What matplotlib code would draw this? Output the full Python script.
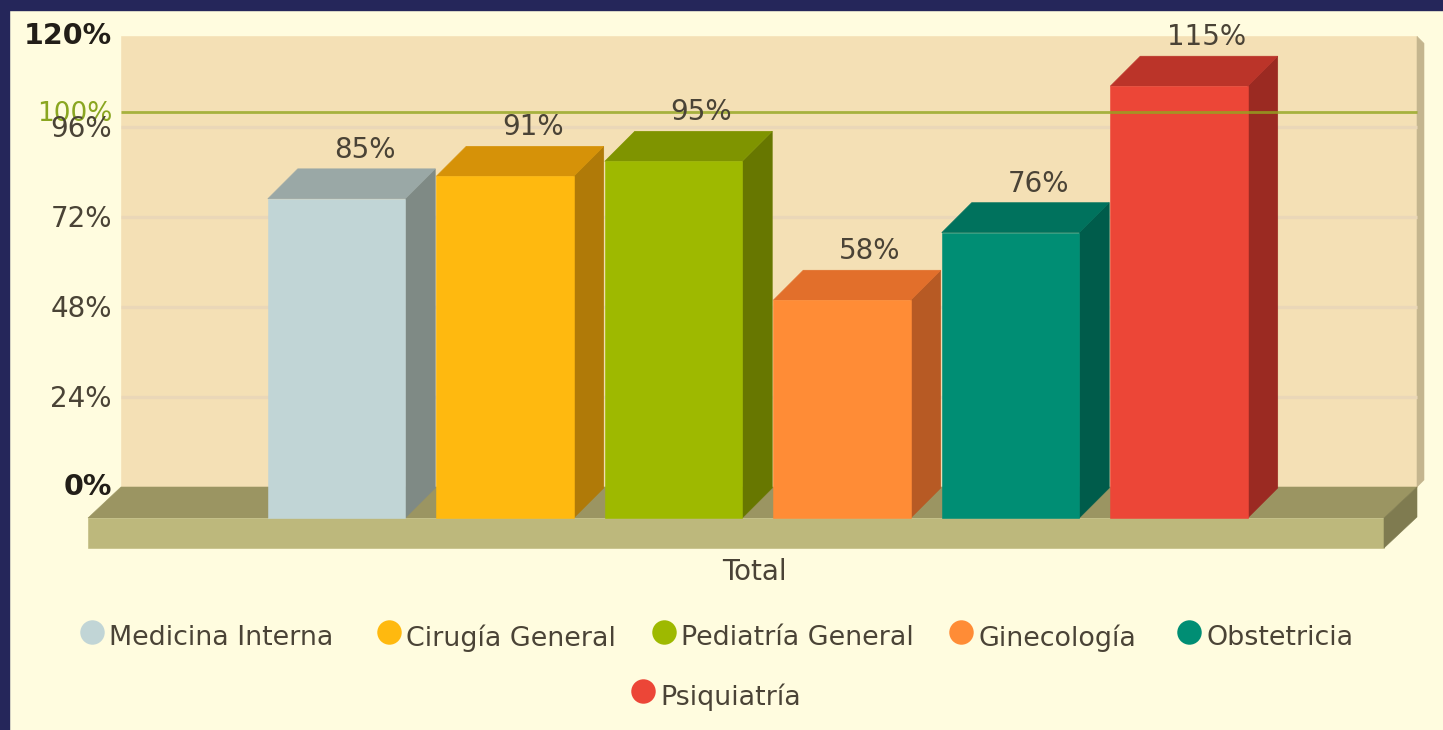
import matplotlib
matplotlib.use("Agg")
import matplotlib.pyplot as plt
from matplotlib.patches import Polygon, Rectangle

categories = ["Medicina Interna", "Cirugía General", "Pediatría General",
              "Ginecología", "Obstetricia", "Psiquiatría"]
values = [85, 91, 95, 58, 76, 115]
value_labels = ["85%", "91%", "95%", "58%", "76%", "115%"]
front_colors = ["#c1d5d6", "#ffb90f", "#9eb900", "#ff8c36", "#008e74", "#ec4637"]
top_colors = ["#9aa8a6", "#d69208", "#7f9400", "#e26f2b", "#00725d", "#bb3429"]
side_colors = ["#7f8a85", "#b07a08", "#677700", "#b75a24", "#005c4b", "#9b2a22"]
y_ticks = [0, 24, 48, 72, 96, 120]
y_tick_labels = ["0%", "24%", "48%", "72%", "96%", "120%"]
target = 100
target_label = "100%"
x_title = "Total"

W, H = 1443, 730
BG = "#fffcdf"
NAVY = "#25265a"
TEXT = "#4a4336"
DARK = "#221e18"
FS = 20

fig = plt.figure(figsize=(W / 100, H / 100), dpi=100, facecolor=BG)
ax = fig.add_axes([0, 0, 1, 1])

# scales: one axis unit in x is one bar slot, one axis unit in y is one percent
SLOT, X0 = 168.5, 336.5
PPU, Y0 = 3.755, 487.0
ax.set_xlim((0 - X0) / SLOT, (W - X0) / SLOT)
ax.set_ylim((Y0 - H) / PPU, (Y0 - 0) / PPU)
ax.axis("off")


def dx(px):
    return px / SLOT


def dy(px):
    return px / PPU


def xp(px):
    return (px - X0) / SLOT


def yp(py):
    return (Y0 - py) / PPU


DEPTH_X, DEPTH_Y = dx(30), dy(30)
BAR_W = dx(137.5)
BASE = -dy(31)


def poly(points, color, z):
    ax.add_patch(Polygon(points, closed=True, facecolor=color, edgecolor=color,
                         linewidth=0.4, zorder=z))


# page frame
ax.add_patch(Rectangle((0, 0), 9 / W, 1, transform=ax.transAxes, color=NAVY, zorder=20))
ax.add_patch(Rectangle((0, 1 - 10 / H), 1, 10 / H, transform=ax.transAxes, color=NAVY, zorder=20))

# back wall
wl, wr = xp(121), xp(1417)
wt = y_ticks[-1]
poly([(wl, 0), (wr, 0), (wr, wt), (wl, wt)], "#f4e0b5", 1)
poly([(wr, 0), (wr + dx(7), dy(7)), (wr + dx(7), wt - dy(7)), (wr, wt)], "#c4b58e", 1)

# grid
for t in y_ticks[1:-1]:
    ax.plot([wl, wr], [t, t], color="#ead7b8", lw=2.4, solid_capstyle="butt", zorder=2)

# floor
fl, fr = xp(88), xp(1384)
thick = dy(30)
poly([(wl, 0), (wr, 0), (fr, BASE), (fl, BASE)], "#9b9562", 3)
poly([(fl, BASE), (fr, BASE), (fr, BASE - thick), (fl, BASE - thick)], "#bdb87c", 3)
poly([(fr, BASE), (wr, 0), (wr, -thick), (fr, BASE - thick)], "#7f7b50", 3)

# bars
for i, (v, lab, fc, tc, sc) in enumerate(zip(values, value_labels, front_colors, top_colors, side_colors)):
    l, r = i - BAR_W / 2, i + BAR_W / 2
    t = BASE + v
    poly([(r, BASE), (r + DEPTH_X, BASE + DEPTH_Y), (r + DEPTH_X, t + DEPTH_Y), (r, t)], sc, 5)
    poly([(l, t), (r, t), (r + DEPTH_X, t + DEPTH_Y), (l + DEPTH_X, t + DEPTH_Y)], tc, 5)
    poly([(l, BASE), (r, BASE), (r, t), (l, t)], fc, 5)
    ax.text(i + dx(28), t + DEPTH_Y + dy(19), lab, ha="center", va="center",
            fontsize=FS, color=TEXT, zorder=8)

# target line
ax.plot([wl, wr], [target, target], color="#93a620", lw=2, alpha=0.8,
        solid_capstyle="butt", zorder=7)
ax.text(xp(112), target - dy(2), target_label, ha="right", va="center",
        fontsize=19, color="#8aa620", zorder=9)

# y labels
for t, lab in zip(y_ticks, y_tick_labels):
    bold = t in (0, y_ticks[-1])
    ax.text(xp(112), t - dy(0 if bold else 2), lab, ha="right", va="center",
            fontsize=20.5 if bold else FS, color=DARK if bold else TEXT,
            fontweight="bold" if bold else "normal", zorder=9)

# x title
ax.text(xp(754), yp(572), x_title, ha="center", va="center", fontsize=FS, color=TEXT)

# legend
legend_marks = [(92, 632), (389, 632), (664, 632), (961, 632), (1189, 632), (643, 691)]
legend_text_x = [109, 406, 681, 978, 1206, 660]
legend_text_y = [638, 638, 638, 638, 638, 697]
for name, fc, (mx, my), tx, ty in zip(categories, front_colors, legend_marks, legend_text_x, legend_text_y):
    ax.scatter([xp(mx)], [yp(my)], s=310, color=fc, linewidths=0, zorder=6)
    ax.text(xp(tx), yp(ty), name, ha="left", va="center", fontsize=19.4, color=TEXT)

fig.savefig("out.png", dpi=100, facecolor=BG)
